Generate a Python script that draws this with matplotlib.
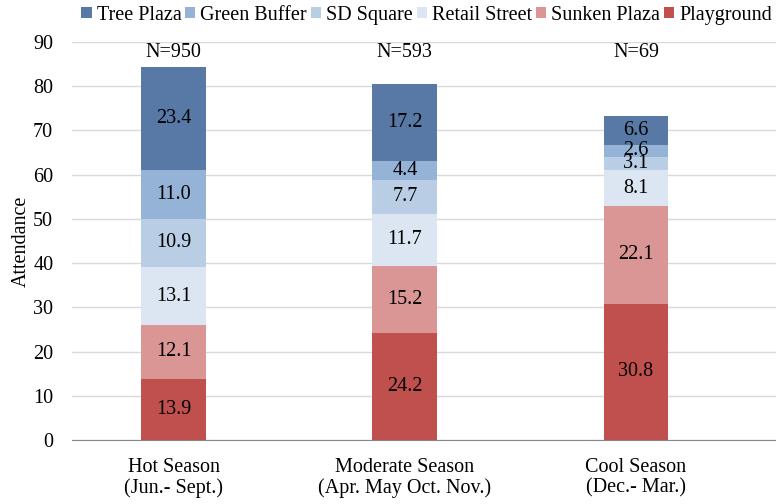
import numpy as np
import matplotlib.pyplot as plt

plt.rcParams['font.family'] = ['Liberation Serif', 'DejaVu Serif']

seasons = ['Hot Season\n(Jun.- Sept.)', 'Moderate Season\n(Apr. May Oct. Nov.)', 'Cool Season\n(Dec.- Mar.)']
n_labels = ['N=950', 'N=593', 'N=69']

# bottom to top
series = ['Playground', 'Sunken Plaza', 'Retail Street', 'SD Square', 'Green Buffer', 'Tree Plaza']
playground = [13.9, 24.2, 30.8]
sunken_plaza = [12.1, 15.2, 22.1]
retail_street = [13.1, 11.7, 8.1]
sd_square = [10.9, 7.7, 3.1]
green_buffer = [11.0, 4.4, 2.6]
tree_plaza = [23.4, 17.2, 6.6]
values = [playground, sunken_plaza, retail_street, sd_square, green_buffer, tree_plaza]
colors = ['#C0504D', '#DA9694', '#DCE6F2', '#B9CDE5', '#95B3D7', '#5878A5']

fs = 14.5
fig = plt.figure(figsize=(7.76, 5.04), dpi=100)
ax = fig.add_axes([72 / 776, 64 / 504, 704 / 776, 398 / 504])

x = np.arange(len(seasons))
bottom = np.zeros(len(seasons))
bars = []
for name, vals, c in zip(series, values, colors):
    vals = np.array(vals)
    b = ax.bar(x, vals, 0.28, bottom=bottom, color=c, label=name, zorder=3)
    bars.append(b)
    for xi, v, bt in zip(x, vals, bottom):
        ax.text(xi, bt + v / 2, f'{v:.1f}', ha='center', va='center', fontsize=fs, zorder=4)
    bottom += vals

for xi, n in zip(x, n_labels):
    ax.text(xi, 87.6, n, ha='center', va='center', fontsize=fs)

ax.set_xlim(-0.44, 2.606)
ax.set_ylim(0, 90)
ax.set_yticks(range(0, 91, 10))
ax.set_xticks(x)
ax.set_xticklabels(seasons, fontsize=fs, linespacing=1.1)
ax.tick_params(axis='both', length=0, labelsize=fs)
ax.tick_params(axis='x', pad=13)
ax.tick_params(axis='y', pad=13.5)
ax.set_ylabel('Attendance', fontsize=fs, labelpad=2)
ax.yaxis.grid(True, color='#D9D9D9', linewidth=1, zorder=0)
for s in ['top', 'right', 'left']:
    ax.spines[s].set_visible(False)
ax.spines['bottom'].set_color('#868686')
ax.spines['bottom'].set_zorder(5)

handles = bars[::-1]
labels = series[::-1]
fig.legend(handles, labels, loc='center', bbox_to_anchor=(0.55, 0.97), ncol=6, frameon=False,
           fontsize=fs, handlelength=0.5, handleheight=0.5, handletextpad=0.25,
           columnspacing=0.2, borderaxespad=0, borderpad=0)

fig.savefig('out.png', dpi=100)
